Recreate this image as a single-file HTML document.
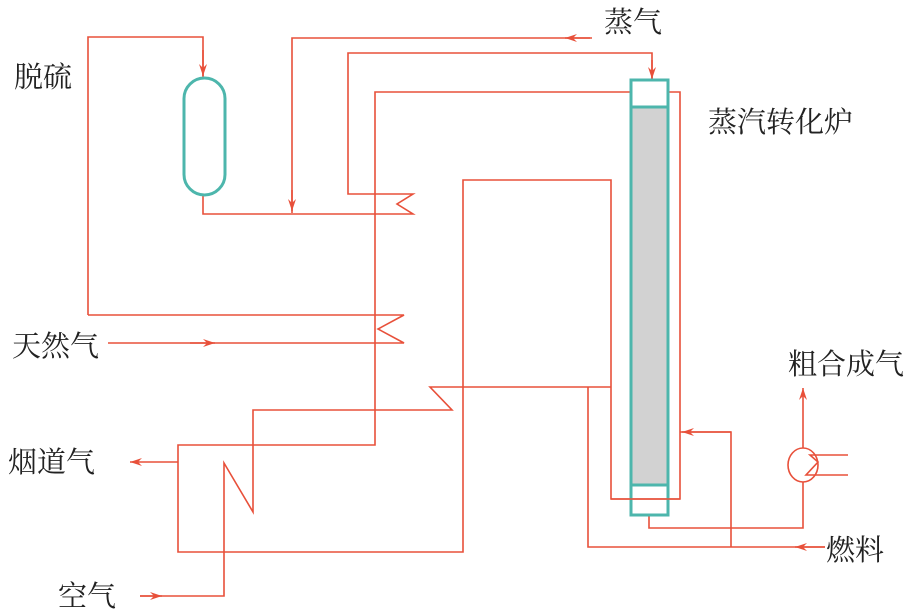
<!DOCTYPE html>
<html><head><meta charset="utf-8"><style>
html,body{margin:0;padding:0;background:#fff;}
svg{display:block;}
text{font-family:"Liberation Serif","Noto Serif CJK SC",serif;font-size:29px;fill:#222;}
</style></head><body>
<svg width="915" height="616" viewBox="0 0 915 616" xmlns="http://www.w3.org/2000/svg">
<defs>
<marker id="a" viewBox="0 0 12 8" refX="12" refY="4" markerWidth="12" markerHeight="8" markerUnits="userSpaceOnUse" orient="auto">
<path d="M0,0 L12,4 L0,8 L4,4 Z" fill="#e8503a"/>
</marker>
</defs>
<g fill="none" stroke="#e8503a" stroke-width="1.6">
<path d="M88,315 L88,37 L203,37 L203,78"/>
<path d="M203,50 L203,76" marker-end="url(#a)"/>
<path d="M590,38 L292,38 L292,213"/>
<path d="M592,38 L565,38" marker-end="url(#a)"/>
<path d="M292,190 L292,211" marker-end="url(#a)"/>
<path d="M203,195 L203,214 L413,214 L397,204 L413,194 L348,194 L348,53 L652,53 L652,80"/>
<path d="M652,60 L652,79" marker-end="url(#a)"/>
<path d="M631,92 L375,92 L375,445 L178,445 L178,552 L463,552 L463,180 L611,180 L611,499 L680,499 L680,92 L668,92"/>
<path d="M178,462 L130,462" marker-end="url(#a)"/>
<path d="M88,315 L404,315 L378,329 L404,343 L108,343"/>
<path d="M190,343 L215,343" marker-end="url(#a)"/>
<path d="M140,596 L224,596 L224,463 L253,512 L253,410 L452,410 L430,387 L611,387"/>
<path d="M140,596 L162,596" marker-end="url(#a)"/>
<path d="M588,387 L588,547 L825,547"/>
<path d="M825,547 L795,547" marker-end="url(#a)"/>
<path d="M731,547 L731,432 L680,432"/>
<path d="M731,432 L682,432" marker-end="url(#a)"/>
<path d="M649,515 L649,528 L803,528 L803,482"/>
<path d="M803,448 L803,388" marker-end="url(#a)"/>
<ellipse cx="803" cy="465" rx="15" ry="17"/>
<path d="M848,455 L810,455 L818,462 L806,475 L848,475"/>
</g>
<rect x="184" y="78" width="41" height="117" rx="20.5" ry="20.5" fill="#fff" stroke="#4db6ac" stroke-width="3"/>
<rect x="631" y="107" width="37" height="378" fill="#d2d2d2"/>
<rect x="631" y="80" width="37" height="435" fill="none" stroke="#4db6ac" stroke-width="3"/>
<line x1="631" y1="107" x2="668" y2="107" stroke="#4db6ac" stroke-width="3"/>
<line x1="631" y1="485" x2="668" y2="485" stroke="#4db6ac" stroke-width="3"/>
<line x1="611" y1="499" x2="680" y2="499" stroke="#e8503a" stroke-width="1.6"/>
<text x="14" y="87">脱硫</text>
<text x="604" y="32">蒸气</text>
<text x="708" y="132">蒸汽转化炉</text>
<text x="12" y="356">天然气</text>
<text x="8" y="472">烟道气</text>
<text x="58" y="606">空气</text>
<text x="788" y="374">粗合成气</text>
<text x="826" y="560">燃料</text>
</svg>
</body></html>
